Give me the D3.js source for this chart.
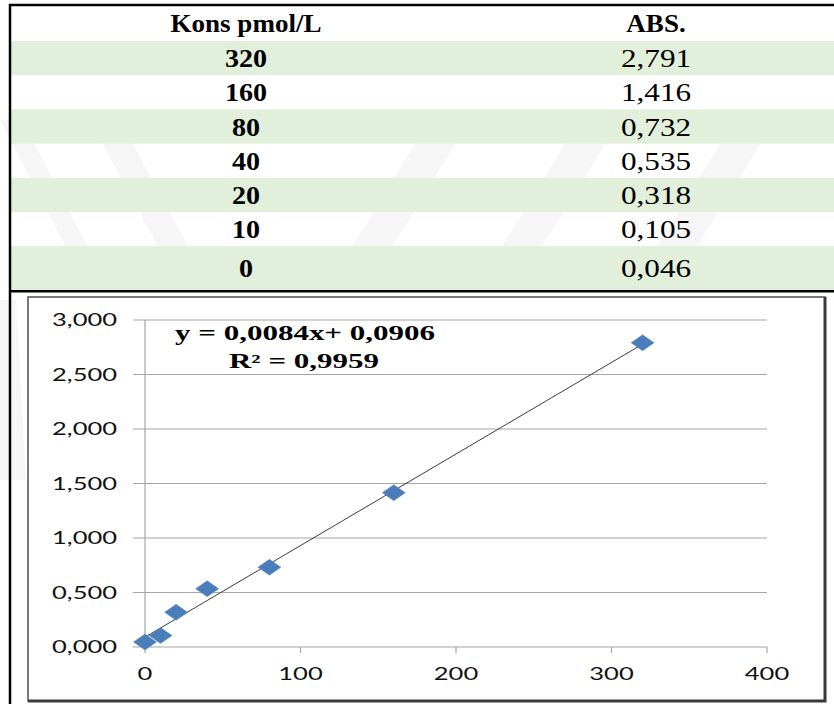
<!DOCTYPE html>
<html>
<head>
<meta charset="utf-8">
<script src="https://cdn.jsdelivr.net/npm/d3@7"></script>
<style>
  html, body { margin: 0; padding: 0; background: #fff; }
  svg { display: block; }
</style>
</head>
<body>
<svg id="chart" width="834" height="704"></svg>
<script>
// Calibration data: concentration (pmol/L) and measured absorbance
const tableHeaders = ["Kons pmol/L", "ABS."];
const concentrations = [320, 160, 80, 40, 20, 10, 0];
const absorbance = [2.791, 1.416, 0.732, 0.535, 0.318, 0.105, 0.046];

// Linear fit reported for the standard curve
const slope = 0.0084;
const intercept = 0.0906;
const rSquared = 0.9959;

// Axis ticks
const xTicks = [0, 100, 200, 300, 400];
const yTicks = [0, 0.5, 1, 1.5, 2, 2.5, 3];

const W = 834, H = 704;
const svg = d3.select("#chart");

// Turkish-style number formatting (comma as decimal separator)
const locale = d3.formatLocale({ decimal: ",", thousands: ".", grouping: [3], currency: ["", ""] });
const f3 = locale.format(".3f");
const f4 = locale.format(".4f");

// ---------- faint background watermark bands ----------
const wm = svg.append("g").attr("fill", "#000").attr("opacity", 0.03);
const bands = [
  [[0, 120], [22, 120], [110, 290], [88, 290]],
  [[90, 120], [120, 120], [190, 250], [160, 250]],
  [[430, 120], [470, 120], [390, 250], [350, 250]],
  [[580, 120], [620, 120], [540, 250], [500, 250]],
  [[735, 120], [775, 120], [695, 250], [655, 250]],
  [[0, 300], [16, 300], [26, 480], [0, 480]]
];
wm.selectAll("polygon").data(bands).join("polygon")
  .attr("points", d => d.map(p => p.join(",")).join(" "));

// ---------- table ----------
const tableLeft = 10, tableTop = 5;
const headerH = 36, rowH = 34.2, lastRowH = 44;
const colX = [246, 656];
const rows = concentrations.map((c, i) => ({ c, a: absorbance[i], i }));
const rowY = i => tableTop + headerH + i * rowH;
const rowHeight = i => (i === rows.length - 1 ? lastRowH : rowH);

const tbl = svg.append("g");
tbl.selectAll("rect.row").data(rows).join("rect")
  .attr("class", "row")
  .attr("x", tableLeft)
  .attr("y", d => rowY(d.i))
  .attr("width", W - tableLeft)
  .attr("height", d => rowHeight(d.i))
  .attr("fill", d => (d.i % 2 === 0 ? "#e2efda" : "none"));

const serif = "'Liberation Serif', 'Times New Roman', serif";
function cellText(g, x, y, text, weight, sx) {
  g.append("text")
    .attr("transform", `translate(${x},${y}) scale(${sx},1)`)
    .attr("text-anchor", "middle")
    .attr("font-family", serif)
    .attr("font-size", 26)
    .attr("font-weight", weight)
    .attr("fill", "#000")
    .text(text);
}
tableHeaders.forEach((h, j) => cellText(tbl, colX[j], tableTop + headerH / 2 + 9, h, "bold", 1.04));
rows.forEach(d => {
  const cy = rowY(d.i) + rowHeight(d.i) / 2 + 9;
  cellText(tbl, colX[0], cy, String(d.c), "bold", 1.08);
  cellText(tbl, colX[1], cy, f3(d.a), "normal", 1.2);
});

// table rules
tbl.append("line").attr("x1", tableLeft - 1).attr("x2", W).attr("y1", tableTop).attr("y2", tableTop)
  .attr("stroke", "#000").attr("stroke-width", 2.5);
tbl.append("line").attr("x1", tableLeft).attr("x2", tableLeft).attr("y1", tableTop - 1).attr("y2", H)
  .attr("stroke", "#000").attr("stroke-width", 2.5);
const tableBottom = rowY(rows.length - 1) + lastRowH;
tbl.append("line").attr("x1", tableLeft - 1).attr("x2", W).attr("y1", tableBottom + 1).attr("y2", tableBottom + 1)
  .attr("stroke", "#000").attr("stroke-width", 2.5);

// ---------- chart frame ----------
const frame = { x: 28, y: 297, w: 797, h: 404 };
const cg = svg.append("g");
cg.append("rect").attr("x", frame.x).attr("y", frame.y).attr("width", frame.w).attr("height", frame.h)
  .attr("fill", "#fff").attr("stroke", "#9a9a9a").attr("stroke-width", 2);
// darker shadow edge on right and bottom
cg.append("path")
  .attr("d", `M${frame.x + frame.w},${frame.y} V${frame.y + frame.h} H${frame.x}`)
  .attr("fill", "none").attr("stroke", "#3a3a3a").attr("stroke-width", 3);
cg.append("path")
  .attr("d", `M${frame.x},${frame.y + frame.h} V${frame.y} H${frame.x + frame.w}`)
  .attr("fill", "none").attr("stroke", "#5a5a5a").attr("stroke-width", 1);

// ---------- scales ----------
const x = d3.scaleLinear().domain([0, 400]).range([145, 767]);
const y = d3.scaleLinear().domain([0, 3]).range([647, 320]);

const sans = "Lato, 'Open Sans', sans-serif";
const stretch = 1.5;

// horizontal gridlines (extend left as tick marks)
cg.append("g").selectAll("line").data(yTicks).join("line")
  .attr("x1", x(0) - 12).attr("x2", x(400))
  .attr("y1", d => y(d)).attr("y2", d => y(d))
  .attr("stroke", "#a6a6a6").attr("stroke-width", 1.2);

// vertical axis line
cg.append("line").attr("x1", x(0)).attr("x2", x(0)).attr("y1", y(3)).attr("y2", y(0) + 6)
  .attr("stroke", "#a6a6a6").attr("stroke-width", 1.2);

// x tick marks
cg.append("g").selectAll("line").data(xTicks.filter(d => d > 0)).join("line")
  .attr("x1", d => x(d)).attr("x2", d => x(d))
  .attr("y1", y(0)).attr("y2", y(0) + 6)
  .attr("stroke", "#a6a6a6").attr("stroke-width", 1.2);

// y tick labels
cg.append("g").selectAll("text").data(yTicks).join("text")
  .attr("transform", d => `translate(117,${y(d) + 6}) scale(${stretch},1)`)
  .attr("text-anchor", "end")
  .attr("font-family", sans).attr("font-size", 17).attr("fill", "#111")
  .text(d => f3(d));

// x tick labels
cg.append("g").selectAll("text").data(xTicks).join("text")
  .attr("transform", d => `translate(${x(d)},${y(0) + 33}) scale(${stretch},1)`)
  .attr("text-anchor", "middle")
  .attr("font-family", sans).attr("font-size", 17).attr("fill", "#111")
  .text(d => String(d));

// trendline over the measured range
const xMax = d3.max(concentrations);
cg.append("line")
  .attr("x1", x(0)).attr("y1", y(intercept))
  .attr("x2", x(xMax)).attr("y2", y(slope * xMax + intercept))
  .attr("stroke", "#3c3c3c").attr("stroke-width", 1);

// diamond markers
const dw = 11.5, dh = 8;
cg.append("g").selectAll("path").data(rows).join("path")
  .attr("d", d => {
    const cx = x(d.c), cy = y(d.a);
    return `M${cx - dw},${cy} L${cx},${cy - dh} L${cx + dw},${cy} L${cx},${cy + dh} Z`;
  })
  .attr("fill", "#4a7ebb").attr("stroke", "#5a8bc6").attr("stroke-width", 0.5);

// trendline equation
const eq = cg.append("g").attr("font-family", serif).attr("font-weight", "bold")
  .attr("font-size", 20).attr("fill", "#000").attr("text-anchor", "middle");
eq.append("text").attr("transform", `translate(305,340) scale(1.55,1)`)
  .text(`y = ${f4(slope)}x+ ${f4(intercept)}`);
eq.append("text").attr("transform", `translate(304,368) scale(1.55,1)`)
  .text(`R² = ${f4(rSquared)}`);
</script>
</body>
</html>
